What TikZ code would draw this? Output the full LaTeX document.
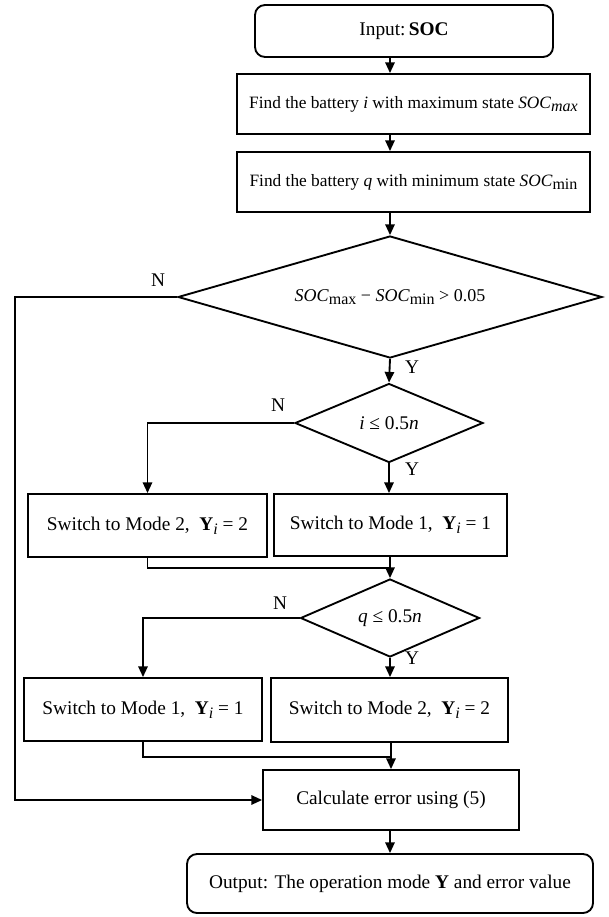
\documentclass[tikz,border=0pt]{standalone}
\usepackage{fontspec}
\setmainfont{Liberation Serif}
\usetikzlibrary{arrows.meta,shapes.geometric}
\newcommand{\lowsub}[1]{\raisebox{-0.45ex}{\fontsize{12}{12}\selectfont #1}}

\begin{document}
\begin{tikzpicture}[x=0.75pt,y=-0.75pt,line width=1.4pt,
	every node/.style={font=\fontsize{14.5}{17}\selectfont},
	box/.style={draw,rectangle,inner sep=0pt},
	term/.style={draw,rectangle,rounded corners=7.5pt,inner sep=0pt},
	decide/.style={draw,diamond,inner sep=0pt,aspect=2},
	arr/.style={-{Triangle[length=8pt,width=7pt]}},
	lbl/.style={inner sep=0pt}]
	\useasboundingbox (0,0) rectangle (609,917);
	%% start, search boxes and first test, placed by hand
	\node[term,minimum width={298*0.75pt},minimum height={52*0.75pt}] (input) at (404,31) {Input:\,\textbf{SOC}};
	\node[box,minimum width={353*0.75pt},minimum height={60*0.75pt},font=\fontsize{13}{16}\selectfont] (maxbox) at (413.5,104) {Find the battery \textit{i} with maximum state \textit{SOC}\lowsub{\textit{max}}};
	\node[box,minimum width={353*0.75pt},minimum height={60*0.75pt},font=\fontsize{13}{16}\selectfont] (minbox) at (413.5,182) {Find the battery \textit{q} with minimum state \textit{SOC}\lowsub{min}};
	\node[decide,minimum width={424*0.75pt},minimum height={122*0.75pt},font=\fontsize{13.5}{16}\selectfont] (dec1) at (390,297) {\textit{SOC}\lowsub{max} − \textit{SOC}\lowsub{min} > 0.05};
	%% mode switching for battery i
	\node[decide,minimum width={188*0.75pt},minimum height={79*0.75pt}] (dec2) at (389,423) {\textit{i} ≤ 0.5\textit{n}};
	\node[box,minimum width={239*0.75pt},minimum height={63*0.75pt}] (m2a) at (147.5,525.5) {Switch to Mode 2,\enspace\textbf{Y}\lowsub{\textit{i}} = 2};
	\node[box,minimum width={233*0.75pt},minimum height={62*0.75pt}] (m1a) at (390.5,525) {Switch to Mode 1,\enspace\textbf{Y}\lowsub{\textit{i}} = 1};
	%% mode switching for battery q
	\node[decide,minimum width={179*0.75pt},minimum height={78*0.75pt}] (dec3) at (390,618) {\textit{q} ≤ 0.5\textit{n}};
	\node[box,minimum width={238*0.75pt},minimum height={63*0.75pt}] (m1b) at (143,709.5) {Switch to Mode 1,\enspace\textbf{Y}\lowsub{\textit{i}} = 1};
	\node[box,minimum width={237*0.75pt},minimum height={64*0.75pt}] (m2b) at (389.5,710) {Switch to Mode 2,\enspace\textbf{Y}\lowsub{\textit{i}} = 2};
	%% error and output
	\node[box,minimum width={256*0.75pt},minimum height={60*0.75pt}] (calc) at (391,800) {Calculate error using (5)};
	\node[term,minimum width={406*0.75pt},minimum height={59*0.75pt}] (output) at (390,883.5) {Output: The operation mode \textbf{Y} and error value};
	%% Y and N labels
	\node[lbl] (n1) at (158,280) {N};
	\node[lbl] (y1) at (412,367) {Y};
	\node[lbl] (n2) at (278,405) {N};
	\node[lbl] (y2) at (412,469) {Y};
	\node[lbl] (n3) at (280,603) {N};
	\node[lbl] (y3) at (412,658) {Y};
	\coordinate (join1) at (390,568);
	\coordinate (join2) at (390,757);
	\coordinate (nturn) at (15,297);
	%% connectors down the middle
	\draw[arr] (input.south -| dec1) -- (maxbox.north -| dec1);
	\draw[arr] (maxbox.south -| dec1) -- (minbox.north -| dec1);
	\draw[arr] (minbox.south -| dec1) -- (dec1.north);
	\draw[arr] (dec1.south) -- (dec2.north);
	\draw[arr] (dec2.west) -| (m2a.north);
	\draw[arr] (dec2.south) -- (m1a.north -| dec2);
	\draw (m2a.south) |- (join1);
	\draw[arr] (m1a.south -| dec3) -- (dec3.north);
	\draw[arr] (dec3.west) -| (m1b.north);
	\draw[arr] (dec3.south) -- (m2b.north -| dec3);
	\draw (m1b.south) |- (join2);
	\draw[arr] (m2b.south -| calc) -- (calc.north);
	\draw[arr] (calc.south -| output) -- (output.north);
	%% N branch of the first test
	\draw[arr] (dec1.west) -- (nturn) |- (calc.west);
\end{tikzpicture}
\end{document}
